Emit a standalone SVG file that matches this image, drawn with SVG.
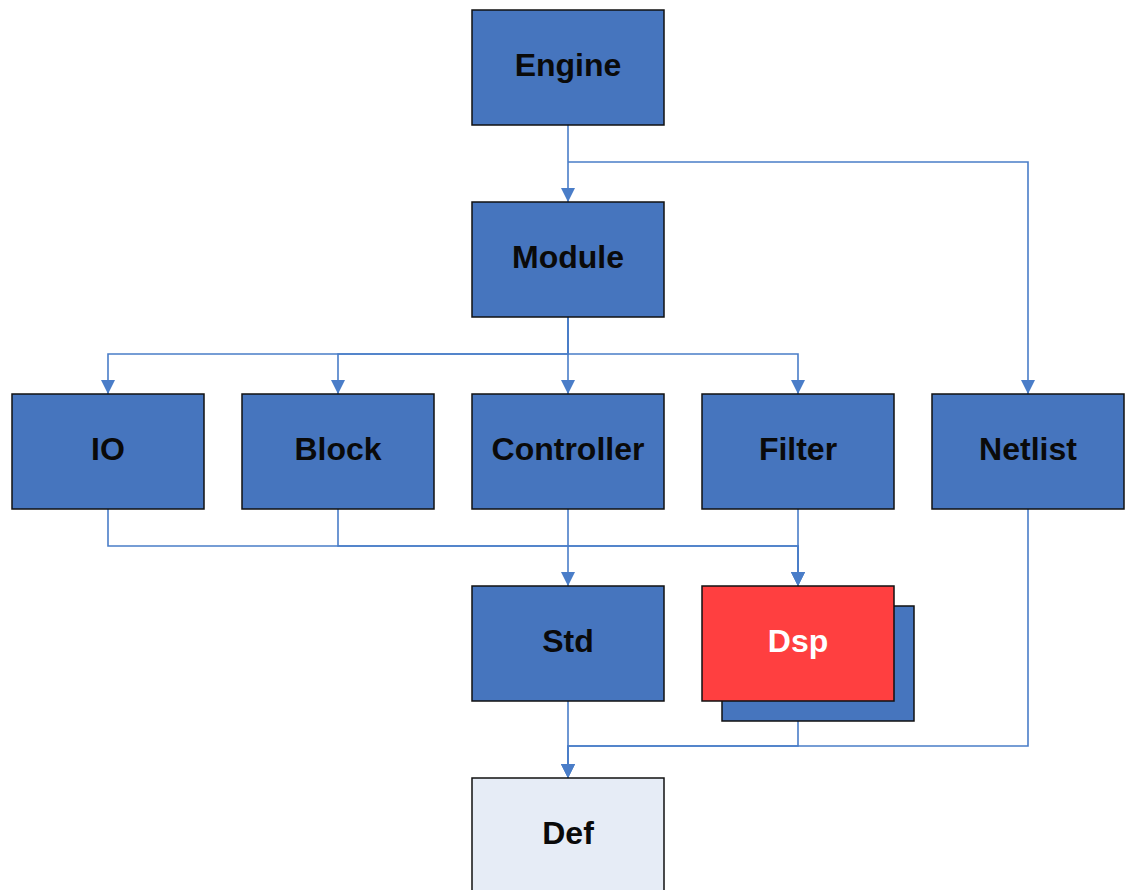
<svg xmlns="http://www.w3.org/2000/svg" width="1125" height="890" viewBox="0 0 1125 890">
  <style>
    .box { fill: #4675be; stroke: #111; stroke-width: 1.5; }
    .hot { fill: #ff3f40; stroke: #111; stroke-width: 1.5; }
    .leaf { fill: #e6ecf6; stroke: #111; stroke-width: 1.5; }
    .lbl { font-family: "Liberation Sans", Arial, sans-serif; font-weight: bold; font-size: 32px; text-anchor: middle; fill: #0a0a0a; }
    .lbl.light { fill: #fff; }
    .edge { fill: none; stroke: #4a7dc8; stroke-width: 1.6; }
  </style>
  <defs>
    <marker id="arrow" markerUnits="userSpaceOnUse" markerWidth="14" markerHeight="14" refX="14" refY="7" orient="auto">
      <path d="M0,0 L14,7 L0,14 z" fill="#4a7dc8"/>
    </marker>
  </defs>
  <rect width="1125" height="890" fill="#fff"/>

  <g id="connectors">
    <path class="edge" marker-end="url(#arrow)" d="M568,125 V202"/>
    <path class="edge" marker-end="url(#arrow)" d="M568,162 H1028 V394"/>
    <path class="edge" marker-end="url(#arrow)" d="M568,317 V354 H108 V394"/>
    <path class="edge" marker-end="url(#arrow)" d="M568,317 V354 H338 V394"/>
    <path class="edge" marker-end="url(#arrow)" d="M568,317 V394"/>
    <path class="edge" marker-end="url(#arrow)" d="M568,317 V354 H798 V394"/>
    <path class="edge" marker-end="url(#arrow)" d="M108,509 V546 H798 V586"/>
    <path class="edge" marker-end="url(#arrow)" d="M338,509 V546 H798 V586"/>
    <path class="edge" marker-end="url(#arrow)" d="M568,509 V586"/>
    <path class="edge" marker-end="url(#arrow)" d="M798,509 V586"/>
    <path class="edge" marker-end="url(#arrow)" d="M568,701 V778"/>
    <path class="edge" marker-end="url(#arrow)" d="M798,721 V746 H568 V778"/>
    <path class="edge" marker-end="url(#arrow)" d="M1028,509 V746 H568 V778"/>
  </g>

  <g id="engine">
    <rect class="box" x="472" y="10" width="192" height="115"/>
    <text class="lbl" x="568" y="76">Engine</text>
  </g>
  <g id="module">
    <rect class="box" x="472" y="202" width="192" height="115"/>
    <text class="lbl" x="568" y="268">Module</text>
  </g>
  <g id="io">
    <rect class="box" x="12" y="394" width="192" height="115"/>
    <text class="lbl" x="108" y="460">IO</text>
  </g>
  <g id="block">
    <rect class="box" x="242" y="394" width="192" height="115"/>
    <text class="lbl" x="338" y="460">Block</text>
  </g>
  <g id="controller">
    <rect class="box" x="472" y="394" width="192" height="115"/>
    <text class="lbl" x="568" y="460">Controller</text>
  </g>
  <g id="filter">
    <rect class="box" x="702" y="394" width="192" height="115"/>
    <text class="lbl" x="798" y="460">Filter</text>
  </g>
  <g id="netlist">
    <rect class="box" x="932" y="394" width="192" height="115"/>
    <text class="lbl" x="1028" y="460">Netlist</text>
  </g>
  <g id="std">
    <rect class="box" x="472" y="586" width="192" height="115"/>
    <text class="lbl" x="568" y="652">Std</text>
  </g>
  <g id="dsp">
    <rect class="box" x="722" y="606" width="192" height="115"/>
    <rect class="hot" x="702" y="586" width="192" height="115"/>
    <text class="lbl light" x="798" y="652">Dsp</text>
  </g>
  <g id="def">
    <rect class="leaf" x="472" y="778" width="192" height="115"/>
    <text class="lbl" x="568" y="844">Def</text>
  </g>
</svg>
